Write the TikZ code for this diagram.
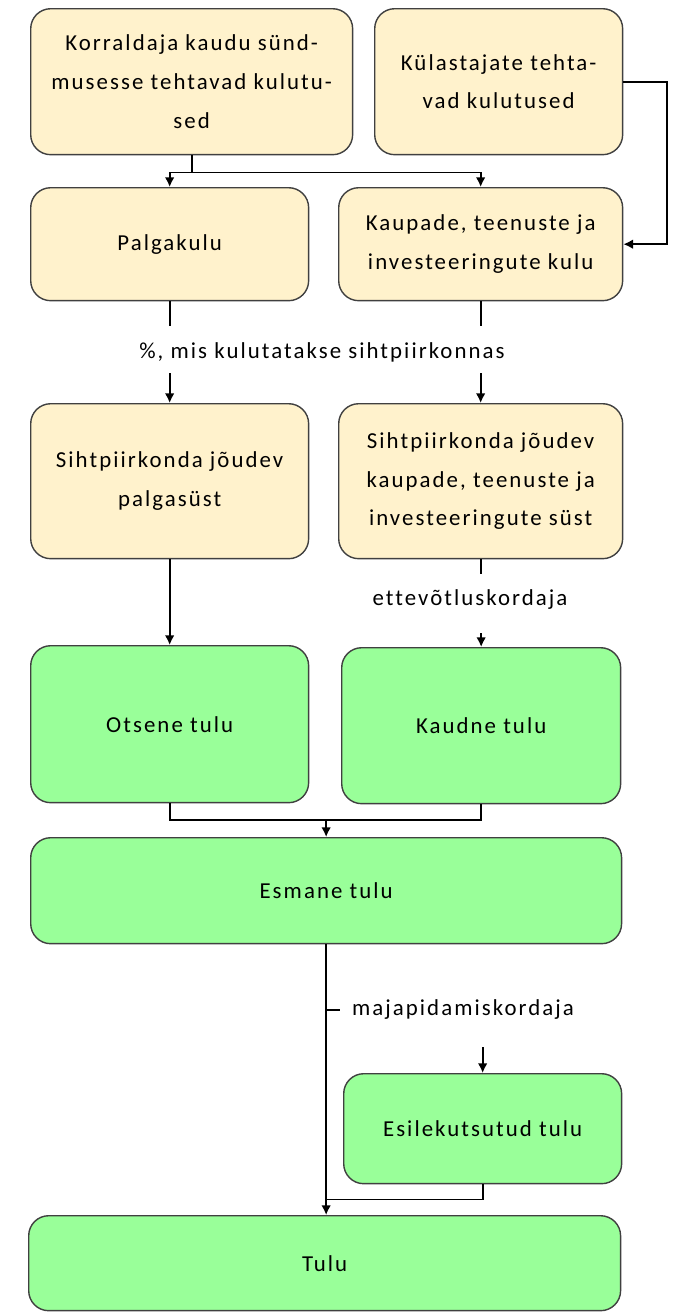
\documentclass[tikz,border=0pt]{standalone}
\usepackage{fontspec}
\setmainfont{Carlito}[LetterSpace=9, Ligatures=NoCommon]
\usepackage{tikz}
\usetikzlibrary{
  arrows.meta,
  positioning,
  calc
}
\definecolor{costfill}{HTML}{FFF2CC}
\definecolor{incomefill}{HTML}{99FF99}
\definecolor{boxline}{HTML}{404040}

\begin{document}
\begin{tikzpicture}[
  x=0.02cm, y=-0.02cm,
  box/.style={draw=boxline, line width=0.8pt, rounded corners=0.4cm, anchor=north west,
    align=center, inner sep=0pt, font=\fontsize{13}{22}\selectfont},
  cost/.style={box, fill=costfill},
  income/.style={box, fill=incomefill},
  lbl/.style={font=\fontsize{13}{16}\selectfont, inner sep=1pt},
  line/.style={draw=black, line width=1pt},
  arr/.style={line, -{Latex[length=5.5pt,width=5.5pt]}},
]
  \useasboundingbox (0,0) rectangle (676,1316);

  % Spending
  \node[cost, minimum width=6.44cm, minimum height=2.92cm] (org) at (30,8)
    {Korraldaja kaudu sünd-\\musesse tehtavad kulutu-\\sed};
  \node[cost, minimum width=4.96cm, minimum height=2.92cm] (visit) at (374,8)
    {Külastajate tehta-\\vad kulutused};
  \node[cost, minimum width=5.56cm, minimum height=2.26cm] (wage) at (30,187) {Palgakulu};
  \node[cost, minimum width=5.68cm, minimum height=2.26cm] (goods) at (338,187)
    {Kaupade, teenuste ja\\investeeringute kulu};

  % Injection into the region
  \node[cost, minimum width=5.56cm, minimum height=3.10cm] (wageinj) at (30,403)
    {Sihtpiirkonda jõudev\\palgasüst};
  \node[cost, minimum width=5.68cm, minimum height=3.10cm] (goodsinj) at (338,403)
    {Sihtpiirkonda jõudev\\kaupade, teenuste ja\\investeeringute süst};

  % Income
  \node[income, minimum width=5.56cm, minimum height=3.14cm] (direct) at (30,645) {Otsene tulu};
  \node[income, minimum width=5.58cm, minimum height=3.12cm] (indirect) at (341,647) {Kaudne tulu};
  \node[income, minimum width=11.82cm, minimum height=2.12cm] (primary) at (30,837) {Esmane tulu};
  \node[income, minimum width=5.56cm, minimum height=2.20cm] (induced) at (343,1073) {Esilekutsutud tulu};
  \node[income, minimum width=11.84cm, minimum height=1.90cm] (total) at (28,1215) {Tulu};

  % Multipliers
  \node[lbl] (share) at (322,352) {\%, mis kulutatakse sihtpiirkonnas};
  \node[lbl] (firmmult) at (470,600) {ettevõtluskordaja};
  \node[lbl, anchor=west] (housemult) at (350,1010) {majapidamiskordaja};

  % Connectors
  \coordinate (split) at ($(org.south)+(0,17)$);
  \draw[line] (org.south) -- (split);
  \draw[arr] (split) -| (wage.north);
  \draw[arr] (split) -| (goods.north);
  \draw[arr] (visit.east) -- ++(44,0) |- (goods.east);

  \draw[line] (wage.south) -- ++(0,25);
  \draw[line] (goods.south) -- ++(0,25);
  \draw[arr] ($(wageinj.north)+(0,-30)$) -- (wageinj.north);
  \draw[arr] ($(goodsinj.north)+(0,-30)$) -- (goodsinj.north);

  \draw[arr] (wageinj.south) -- (direct.north);
  \draw[line] (goodsinj.south) -- ++(0,15);
  \draw[arr] ($(indirect.north)+(0,-14)$) -- (indirect.north);

  \coordinate (join) at (primary.north |- 0,820);
  \draw[line] (direct.south) |- (join) -| (indirect.south);
  \draw[arr] (join) -- (primary.north);

  \draw[arr] (primary.south) -- (primary.south |- total.north);
  \coordinate (tick) at (primary.south |- housemult.west);
  \draw[line] (tick) -- ++(14,0);
  \draw[arr] ($(induced.north)+(0,-26)$) -- (induced.north);
  \draw[line] (induced.south) -- ++(0,15) -| (primary.south |- 0,1198);
\end{tikzpicture}
\end{document}
